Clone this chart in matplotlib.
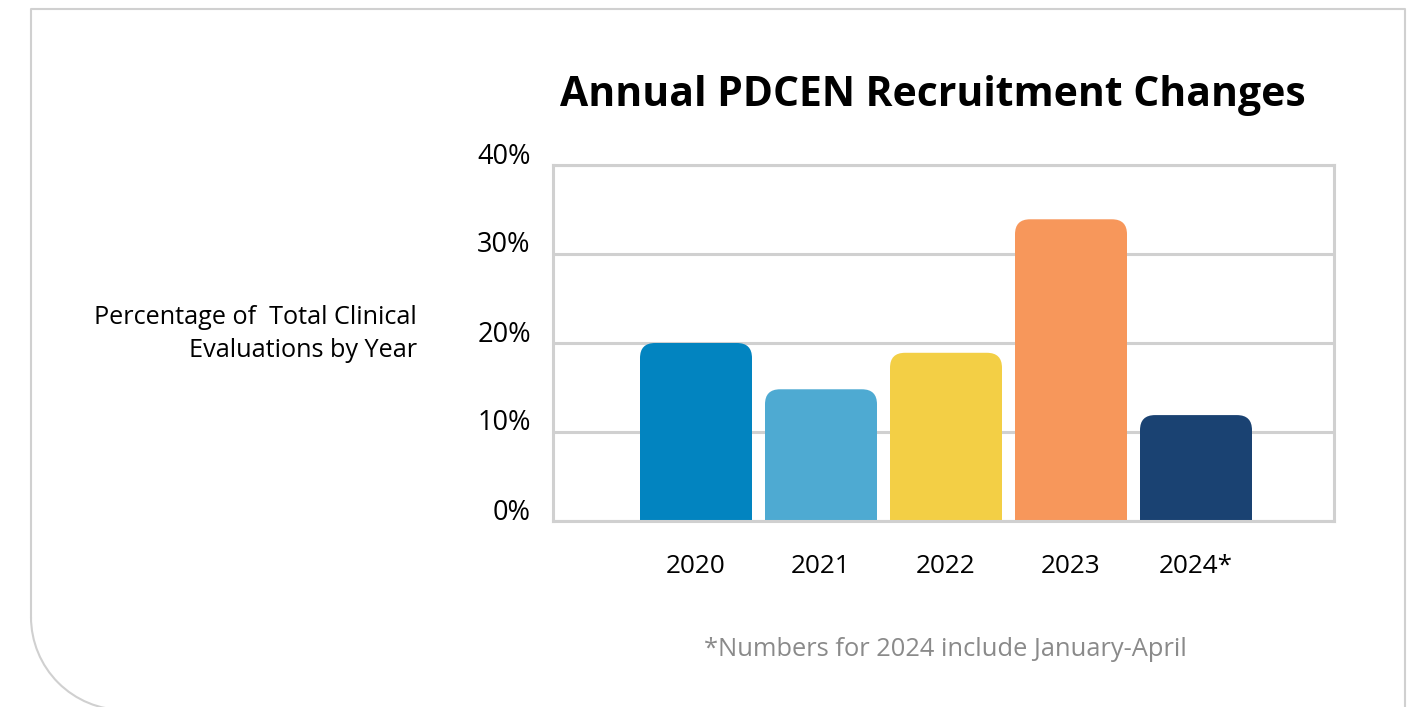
import matplotlib
matplotlib.use("Agg")
import matplotlib.pyplot as plt
from matplotlib.patches import FancyBboxPatch, Arc
from matplotlib.lines import Line2D
import matplotlib.transforms as mtransforms

# data
years = ["2020", "2021", "2022", "2023", "2024*"]
shares = [20.0, 14.8, 18.9, 33.9, 11.9]
bar_colors = ["#0284c0", "#4eaad2", "#f3cf45", "#f7975b", "#1a4272"]
yticks = [0, 10, 20, 30, 40]
ytick_labels = ["0%", "10%", "20%", "30%", "40%"]

title = "Annual PDCEN Recruitment Changes"
ylabel = "Percentage of  Total Clinical\nEvaluations by Year"
footnote = "*Numbers for 2024 include January-April"

plt.rcParams['font.family'] = ['Open Sans', 'DejaVu Sans']
grid_col = "#d0d0d0"

W, H = 1421, 707
fig = plt.figure(figsize=(W / 100, H / 100), dpi=100)

# outer card border (top, left, right, rounded lower-left corner)
bg = fig.add_axes([0, 0, 1, 1])
bg.set_xlim(0, W)
bg.set_ylim(H, 0)
bg.axis("off")
r = 93
bg.add_line(Line2D([31, 31, 1405, 1405], [617, 9, 9, H + 5], color=grid_col, lw=1.5))
bg.add_patch(Arc((31 + r, 617), 2 * r, 2 * r, theta1=90, theta2=180, color=grid_col, lw=1.5))

# bar chart
ax = fig.add_axes([553 / W, 1 - 521 / H, (1334 - 553) / W, (521 - 165) / H])
x = list(range(len(years)))
ax.set_xlim(-1.144, 5.104)
ax.set_ylim(0, 40)

bw = 0.896
rx = 0.12
aspect = (15 / 8.9) / rx
for xi, v, c in zip(x, shares, bar_colors):
    p = FancyBboxPatch((xi - bw / 2, -5), bw, v + 5,
                       boxstyle="round,pad=0,rounding_size=%g" % rx,
                       mutation_aspect=aspect, fc=c, ec="none", zorder=3)
    ax.add_patch(p)

ax.set_yticks(yticks)
ax.set_yticklabels(ytick_labels)
ax.set_xticks(x)
ax.set_xticklabels(years)
ax.tick_params(axis="y", length=0, labelsize=19.5, colors="black", pad=16)
ax.tick_params(axis="x", length=0, labelsize=18.8, colors="black", pad=24)
ax.yaxis.grid(True, color=grid_col, lw=2.2, zorder=1)
ax.set_axisbelow(True)
for s in ax.spines.values():
    s.set_color(grid_col)
    s.set_linewidth(2.2)
    s.set_zorder(4)

# y tick labels sit a bit above their gridlines
off = mtransforms.ScaledTranslation(0, 12 / 100, fig.dpi_scale_trans)
for lbl in ax.get_yticklabels():
    lbl.set_transform(lbl.get_transform() + off)

fig.text(933 / W, 1 - 96 / H, title, ha="center", va="center",
         fontsize=29.4, fontweight="bold")
fig.text(417 / W, 1 - 334 / H, ylabel, ha="right", va="center",
         multialignment="right", fontsize=18.2, linespacing=1.4)
fig.text(945 / W, 1 - 650 / H, footnote, ha="center", va="center",
         fontsize=18.4, color="#8a8a8a")

fig.savefig("out.png", dpi=100)
